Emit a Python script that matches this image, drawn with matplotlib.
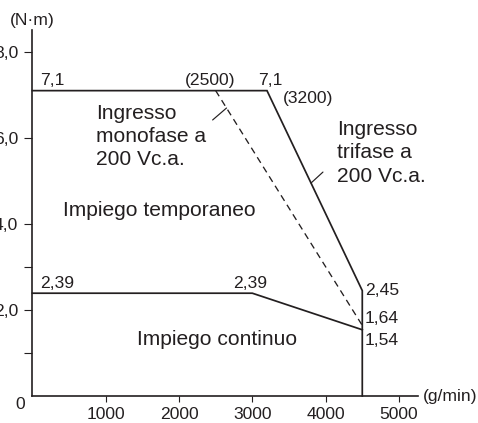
import numpy as np
import matplotlib
matplotlib.use("Agg")
import matplotlib.pyplot as plt

plt.rcParams['font.family'] = ['Liberation Sans', 'DejaVu Sans']

# Torque–speed characteristic (speed in g/min, torque in N·m)
peak_speed = [0, 3200, 4500, 4500]
peak_torque = [7.1, 7.1, 2.45, 0.0]

cont_speed = [0, 3000, 4500]
cont_torque = [2.39, 2.39, 1.54]

mono_speed = [2500, 4500]
mono_torque = [7.1, 1.64]

y_major = [2, 4, 6, 8]
y_major_labels = ["2,0", "4,0", "6,0", "8,0"]
y_minor = [1, 3]
x_major = [1000, 2000, 3000, 4000, 5000]
x_major_labels = ["1000", "2000", "3000", "4000", "5000"]

INK = '#231f20'
BIG = 15.1
NUM = 12.6

W, H = 478, 423
fig = plt.figure(figsize=(W / 100, H / 100), dpi=100)
ax = fig.add_axes([32.4 / W, (H - 396) / H, (418 - 32.4) / W, (396 - 30) / H])
ax.set_xlim(0, 5260)
ax.set_ylim(0, 8.51)

for side in ('top', 'right'):
    ax.spines[side].set_visible(False)
for side in ('left', 'bottom'):
    ax.spines[side].set_color(INK)
    ax.spines[side].set_linewidth(1.2)

ax.set_yticks(y_major)
ax.set_yticklabels(y_major_labels)
ax.set_yticks(y_minor, minor=True)
ax.set_xticks(x_major)
ax.set_xticklabels(x_major_labels)
ax.tick_params(axis='y', which='both', direction='out', length=5.8, width=0.8,
               color=INK, pad=4.3, labelsize=NUM, labelcolor=INK)
ax.tick_params(axis='x', which='both', direction='out', length=4.3, width=0.8,
               color=INK, pad=3.8, labelsize=NUM, labelcolor=INK)

# curves
ax.plot(peak_speed, peak_torque, color=INK, lw=1.25, clip_on=False,
        solid_joinstyle='miter')
ax.plot(cont_speed, cont_torque, color=INK, lw=1.25, clip_on=False)
ax.plot(mono_speed, mono_torque, color=INK, lw=0.95, dashes=(5, 3.5),
        clip_on=False)

# leader lines
t = 0.074
p = (mono_speed[0] + t * (mono_speed[1] - mono_speed[0]),
     mono_torque[0] + t * (mono_torque[1] - mono_torque[0]))
ax.annotate('', xy=p, xytext=(-10, -8.6), textcoords='offset points',
            arrowprops=dict(arrowstyle='-', color=INK, lw=0.85,
                            shrinkA=0, shrinkB=0))
t = 0.462
p = (peak_speed[1] + t * (peak_speed[2] - peak_speed[1]),
     peak_torque[1] + t * (peak_torque[2] - peak_torque[1]))
ax.annotate('', xy=p, xytext=(8.6, 7.9), textcoords='offset points',
            arrowprops=dict(arrowstyle='-', color=INK, lw=0.85,
                            shrinkA=0, shrinkB=0))

def label(x, y, s, size=NUM, ha='left'):
    ax.text(x, y, s, fontsize=size, color=INK, ha=ha, va='baseline',
            clip_on=False)

label(104, 7.23, "7,1")
label(2082, 7.23, "(2500)")
label(3078, 7.23, "7,1")
label(3417, 6.81, "(3200)")

for yy, s in zip([6.44, 5.91, 5.37], ["Ingresso", "monofase a", "200 Vc.a."]):
    label(868, yy, s, size=BIG)
for yy, s in zip([6.07, 5.53, 4.98], ["Ingresso", "trifase a", "200 Vc.a."]):
    label(4156, yy, s, size=BIG)

label(417, 4.19, "Impiego temporaneo", size=BIG)
label(1427, 1.19, "Impiego continuo", size=BIG)

label(104, 2.51, "2,39")
label(2737, 2.51, "2,39")
label(4537, 2.35, "2,45")
label(4537, 1.70, "1,64")
label(4537, 1.19, "1,54")

label(5329, -0.12, "(g/min)")
label(-101, -0.30, "0", ha='right')

fig.text(10 / W, (H - 25) / H, "(N·m)", fontsize=NUM, color=INK,
         ha='left', va='baseline')

fig.savefig('out.png', dpi=100)
